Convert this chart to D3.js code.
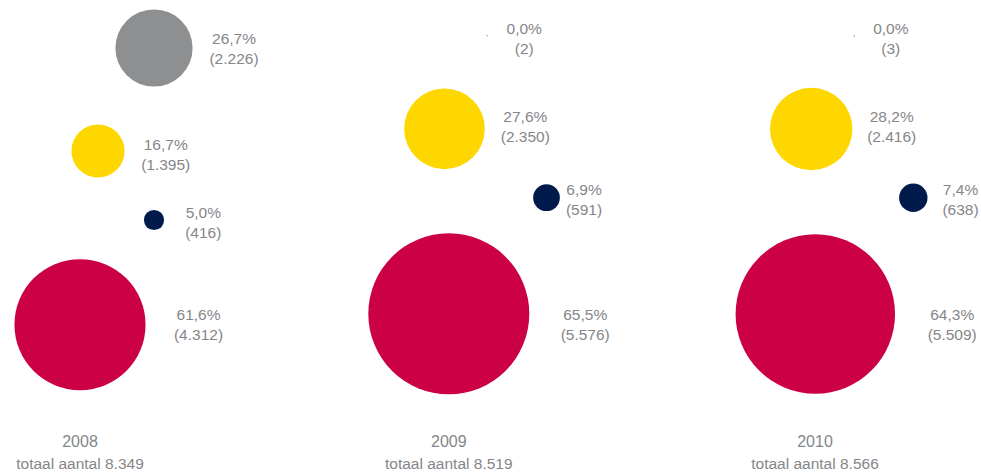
<!DOCTYPE html>
<html>
<head>
<meta charset="utf-8">
<script src="https://cdn.jsdelivr.net/npm/d3@7"></script>
<style>
  html, body { margin: 0; padding: 0; background: #fff; }
  svg { display: block; }
  text { font-family: "Liberation Sans", Arial, sans-serif; fill: #858689; }
</style>
</head>
<body>
<svg id="chart" width="981" height="473"></svg>
<script>
// ---- data ----
const years = ["2008", "2009", "2010"];
const totals = [8349, 8519, 8566];
const categories = ["grijs", "geel", "donkerblauw", "rood"];
const counts = {
  grijs:       [2226, 2, 3],
  geel:        [1395, 2350, 2416],
  donkerblauw: [416, 591, 638],
  rood:        [4312, 5576, 5509]
};
const percents = {
  grijs:       [26.7, 0.0, 0.0],
  geel:        [16.7, 27.6, 28.2],
  donkerblauw: [5.0, 6.9, 7.4],
  rood:        [61.6, 65.5, 64.3]
};

// ---- style / layout (not data) ----
const colors = { grijs: "#8e8f91", geel: "#ffd700", donkerblauw: "#001a4b", rood: "#cc0044" };
// offsets relative to each year's column centre: bubble (dx, cy) and label (lx, ly)
const layout = {
  "2008": { grijs: [74, 48, 154, 48.8], geel: [18, 151, 85.7, 154.5], donkerblauw: [74, 220, 123.3, 222], rood: [0, 324.7, 118.5, 324.2] },
  "2009": { grijs: [39.5, 35.7, 76.7, 38.3], geel: [-3, 128.8, 77.8, 126.7], donkerblauw: [99, 197.7, 136.5, 199], rood: [1.3, 313.8, 137.7, 324.8] },
  "2010": { grijs: [39.3, 36, 75.8, 38.3], geel: [-3.8, 129, 76.7, 126.7], donkerblauw: [98.3, 197.7, 145.5, 199], rood: [0.3, 314, 137.2, 324.8] }
};

const nl = d3.formatLocale({ decimal: ",", thousands: ".", grouping: [3], currency: ["€", ""] });
const fmtPct = v => nl.format(".1f")(v) + "%";
const fmtCnt = nl.format(",");

const svg = d3.select("#chart");

const x = d3.scalePoint().domain(years).range([80, 815]);
const maxVal = d3.max(categories.flatMap(c => counts[c]));
const r = d3.scalePow().exponent(0.8).domain([0, maxVal]).range([0, 80.5]);

const items = [];
years.forEach((y, i) => {
  categories.forEach(c => {
    const L = layout[y][c];
    items.push({ year: y, cat: c, value: counts[c][i], pct: percents[c][i],
      cx: x(y) + L[0], cy: L[1], lx: x(y) + L[2], ly: L[3] });
  });
});

svg.selectAll("circle.bubble")
  .data(items)
  .join("circle")
  .attr("class", "bubble")
  .attr("cx", d => d.cx)
  .attr("cy", d => d.cy)
  .attr("r", d => Math.max(0.7, r(d.value)))
  .attr("fill", d => colors[d.cat]);

const lbl = svg.selectAll("g.lbl")
  .data(items)
  .join("g")
  .attr("class", "lbl")
  .attr("transform", d => `translate(${d.lx},${d.ly})`);

lbl.append("text")
  .attr("text-anchor", "middle")
  .attr("y", -4.5)
  .style("font-size", "15.5px")
  .text(d => fmtPct(d.pct));

lbl.append("text")
  .attr("text-anchor", "middle")
  .attr("y", 15.5)
  .style("font-size", "15.5px")
  .text(d => "(" + fmtCnt(d.value) + ")");

const foot = svg.selectAll("g.foot")
  .data(years)
  .join("g")
  .attr("class", "foot")
  .attr("transform", (d) => `translate(${x(d) + (d === "2009" ? 1.3 : 0)},0)`);

foot.append("text")
  .attr("text-anchor", "middle")
  .attr("y", 447)
  .style("font-size", "16px")
  .text(d => d);

foot.append("text")
  .attr("text-anchor", "middle")
  .attr("y", 469)
  .style("font-size", "15.5px")
  .text((d, i) => "totaal aantal " + fmtCnt(totals[i]));
</script>
</body>
</html>
